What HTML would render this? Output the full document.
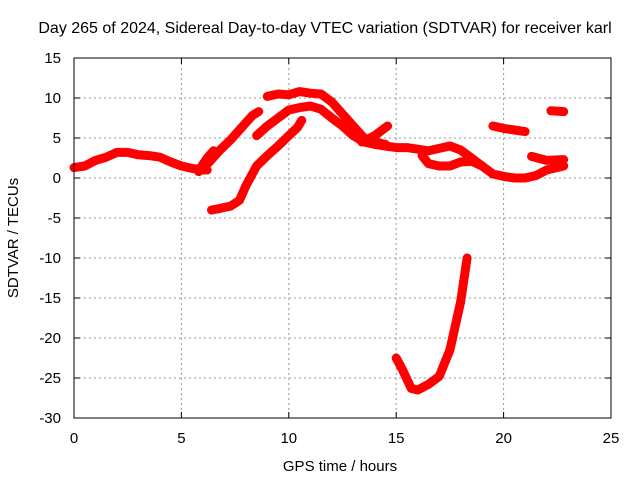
<!DOCTYPE html>
<html><head><meta charset="utf-8"><style>
body{margin:0;background:#fff}
svg text{font-family:"Liberation Sans",sans-serif;font-size:15px;fill:#000}
</style></head><body>
<svg id="chart" width="640" height="480" viewBox="0 0 640 480">
<rect width="640" height="480" fill="#fff"/>
<text x="325" y="33" text-anchor="middle" style="font-size:16px">Day 265 of 2024, Sidereal Day-to-day VTEC variation (SDTVAR) for receiver karl</text>
<g id="grid"></g>
<g id="series"></g>
<rect x="74" y="58" width="537" height="360" fill="none" stroke="#000" stroke-width="1"/>
<g id="ticks"></g>
<text x="340" y="471" text-anchor="middle">GPS time / hours</text>
<text transform="translate(18,238) rotate(-90)" text-anchor="middle">SDTVAR / TECUs</text>
</svg>
<script>
const xTicks=[0,5,10,15,20,25];
const yTicks=[15,10,5,0,-5,-10,-15,-20,-25,-30];
const segA_x=[0,0.5,1,1.5,2,2.5,3,3.5,4,4.5,5,5.5,6,6.2];
const segA_y=[1.3,1.5,2.2,2.6,3.2,3.2,2.9,2.8,2.6,2.0,1.5,1.2,1.0,1.0];
const segB_x=[5.8,6.3,6.8,7.3,7.8,8.3,8.6];
const segB_y=[0.8,2,3.5,4.8,6.3,7.8,8.3];
const segB2_x=[5.9,6.2,6.5];
const segB2_y=[1.3,2.5,3.4];
const segC_x=[8.5,9,9.5,10,10.5,11,11.5,12,12.5,13,13.5,14,14.5,15,15.5,16,16.5,17,17.5,18,18.5,19,19.5,20,20.5,21,21.5,22,22.8];
const segC_y=[5.3,6.5,7.5,8.5,8.8,9.0,8.6,7.5,6.5,5.3,4.5,4.2,4.0,3.8,3.8,3.6,3.4,3.7,4.0,3.5,2.5,1.5,0.5,0.2,0,0,0.3,1,1.5];
const segD_x=[9,9.5,10,10.5,11,11.5,12,12.5,13,13.5,14,14.5];
const segD_y=[10.2,10.5,10.4,10.8,10.6,10.5,9.5,8,6.5,5,4.5,4.2];
const segE_x=[16.2,16.5,17,17.5,18,18.5,19];
const segE_y=[2.8,1.8,1.5,1.5,2,2.1,1.5];
const segF_x=[6.4,6.8,7.3,7.7,8,8.5,9,9.5,10,10.4,10.6];
const segF_y=[-4,-3.8,-3.5,-2.8,-1,1.5,2.8,4,5.3,6.3,7.2];
const segG_x=[19.5,20,20.5,21];
const segG_y=[6.5,6.2,6,5.8];
const segH_x=[22.2,22.8];
const segH_y=[8.4,8.3];
const segI_x=[21.3,22,22.8];
const segI_y=[2.7,2.2,2.3];
const segJ_x=[15,15.3,15.7,16,16.5,17,17.5,18,18.3];
const segJ_y=[-22.5,-24,-26.3,-26.5,-25.8,-24.8,-21.5,-15.5,-10];
const segK_x=[13.4,14,14.6];
const segK_y=[4.5,5.3,6.5];
const segments=[[segA_x,segA_y],[segB_x,segB_y],[segB2_x,segB2_y],[segC_x,segC_y],[segD_x,segD_y],[segE_x,segE_y],[segF_x,segF_y],[segG_x,segG_y],[segH_x,segH_y],[segI_x,segI_y],[segJ_x,segJ_y],[segK_x,segK_y]];
const X=v=>74+v*(537/25);
const Y=v=>58+(15-v)*8;
const NS="http://www.w3.org/2000/svg";
const grid=document.getElementById('grid'),ticks=document.getElementById('ticks'),series=document.getElementById('series');
function mk(t,a,p){const e=document.createElementNS(NS,t);for(const k in a)e.setAttribute(k,a[k]);p.appendChild(e);return e;}
xTicks.forEach(v=>{
  const x=X(v);
  if(v>0&&v<25){const l=mk('line',{x1:x,x2:x,y1:58,y2:418,stroke:'#999','stroke-dasharray':'2,3'},grid);
  
  }
  mk('line',{x1:x,x2:x,y1:418,y2:412,stroke:'#000'},ticks);
  mk('line',{x1:x,x2:x,y1:58,y2:64,stroke:'#000'},ticks);
  const t=mk('text',{x:x,y:443,'text-anchor':'middle'},ticks);t.textContent=v;
  
  
});
yTicks.forEach(v=>{
  const y=Y(v);
  if(v<15&&v>-30){const l=mk('line',{x1:74,x2:611,y1:y,y2:y,stroke:'#999','stroke-dasharray':'2,3'},grid);
  
  }
  mk('line',{x1:74,x2:80,y1:y,y2:y,stroke:'#000'},ticks);
  mk('line',{x1:611,x2:605,y1:y,y2:y,stroke:'#000'},ticks);
  const t=mk('text',{x:61,y:y+5,'text-anchor':'end'},ticks);t.textContent=v;
  
  
});
segments.forEach(([xs,ys])=>{
  const pts=xs.map((v,i)=>X(v).toFixed(1)+','+Y(ys[i]).toFixed(1)).join(' ');
  const p=mk('polyline',{points:pts,fill:'none',stroke:'#f00','stroke-width':9,'stroke-linejoin':'round','stroke-linecap':'round'},series);
  
  
});
</script>
</body></html>
